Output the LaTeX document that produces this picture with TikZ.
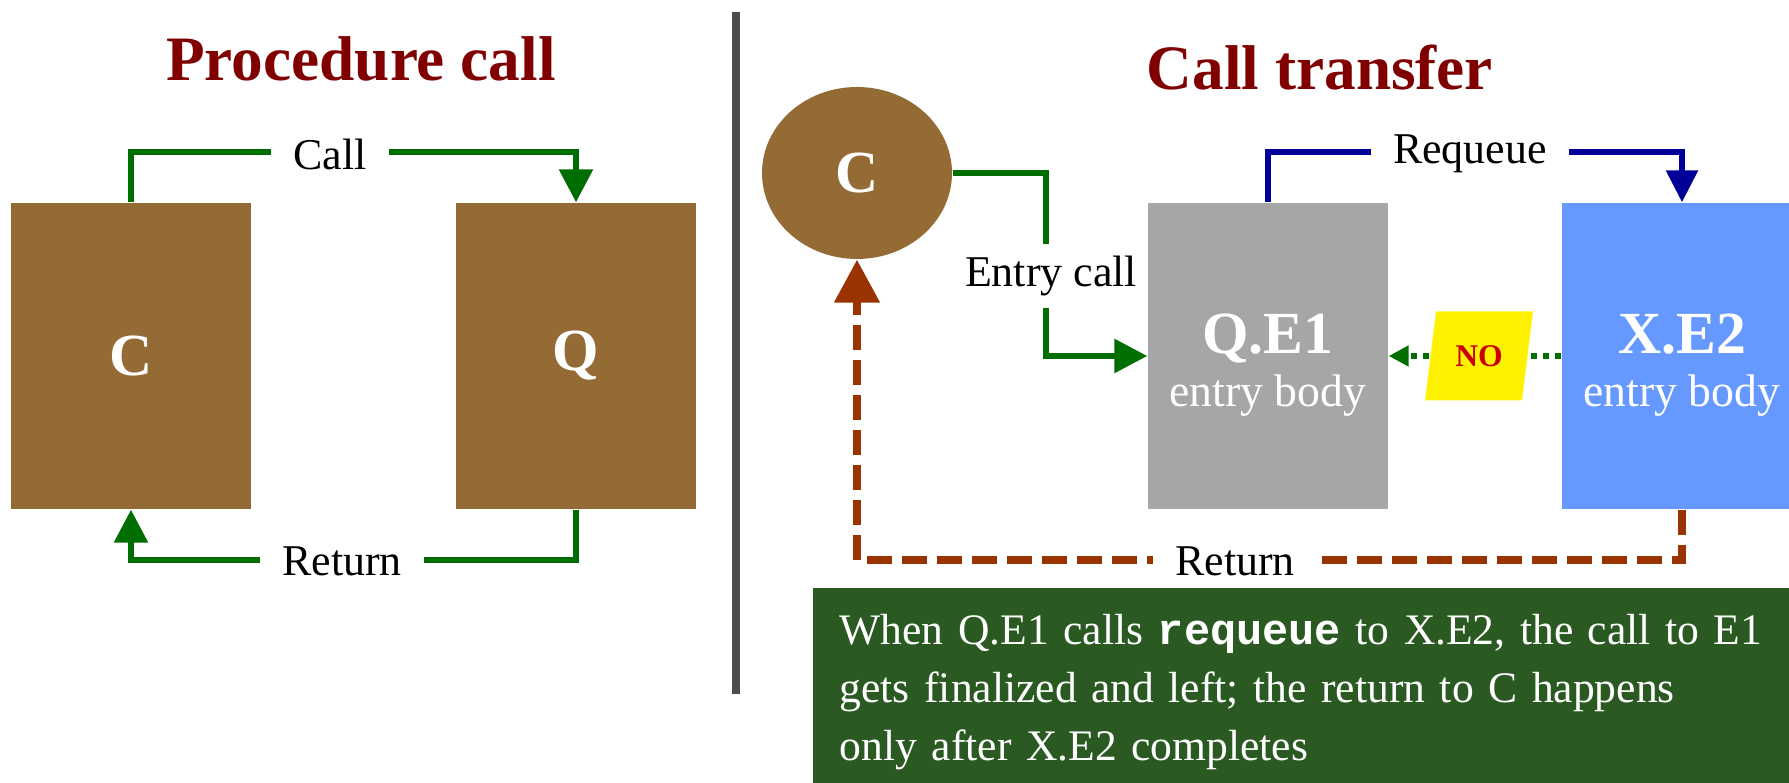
\documentclass[tikz,border=0pt]{standalone}
\usepackage{fontspec}
\setmainfont{Liberation Serif}
\setmonofont{Liberation Mono}
\definecolor{ttlred}{RGB}{128,0,0}
\definecolor{boxbrown}{RGB}{148,107,52}
\definecolor{boxgray}{RGB}{166,166,166}
\definecolor{boxblue}{RGB}{102,153,255}
\definecolor{callgreen}{RGB}{0,110,0}
\definecolor{reqblue}{RGB}{0,0,153}
\definecolor{retbrown}{RGB}{153,51,0}
\definecolor{notegreen}{RGB}{42,89,34}
\definecolor{nored}{RGB}{204,0,0}
\definecolor{sepgray}{RGB}{77,77,77}
\usetikzlibrary{arrows.meta,shapes.geometric}

\begin{document}
\begin{tikzpicture}[
  ttl/.style={text=ttlred,font=\fontsize{18}{22}\selectfont\bfseries},
  procbox/.style={fill=boxbrown,minimum width=2.4cm,minimum height=3.06cm,text=white,font=\fontsize{17}{20}\selectfont\bfseries},
  entrybox/.style={minimum width=2.4cm,minimum height=3.06cm,text=white,align=center,font=\fontsize{13}{15}\selectfont},
  lbl/.style={fill=white,inner xsep=0.22cm,inner ysep=0.12cm,font=\fontsize{12.5}{15}\selectfont},
  flow/.style={callgreen,line width=0.06cm,-{Triangle[length=0.33cm,width=0.33cm]}},
  reqflow/.style={reqblue,line width=0.06cm,-{Triangle[length=0.32cm,width=0.31cm]}},
  retflow/.style={retbrown,line width=0.08cm,dash pattern=on 0.25cm off 0.1cm,-{Triangle[length=0.43cm,width=0.44cm]}},
  noflow/.style={callgreen,line width=0.06cm,dash pattern=on 0.06cm off 0.06cm,-{Triangle[length=0.2cm,width=0.2cm]}}]
  \clip (0,0) rectangle (17.89,7.83);
  % procedure call
  \node[ttl] (ttlproc) at (3.61,7.24) {Procedure call};
  \node[procbox] (c) at (1.31,4.27) {C};
  \node[procbox] (q) at (5.76,4.27) {Q};
  \draw[flow] (c.north) -- ++(0,0.5) -| (q.north);
  \draw[flow] (q.south) -- ++(0,-0.5) -| (c.south);
  \node[lbl] (calllbl) at (3.30,6.29) {Call};
  \node[lbl] (retlbl) at (3.42,2.22) {Return};
  \draw[sepgray,line width=0.08cm] (7.36,0.89) -- (7.36,7.71);
  % call transfer
  \node[ttl] (ttltrans) at (13.20,7.15) {Call transfer};
  \node[ellipse,fill=boxbrown,minimum width=1.9cm,minimum height=1.72cm,inner sep=0,text=white,font=\fontsize{17}{20}\selectfont\bfseries] (cc) at (8.57,6.10) {C};
  \node[entrybox,fill=boxgray] (qe1) at (12.68,4.27) {\rule{0pt}{0.58cm}{\fontsize{17}{17}\selectfont\bfseries Q.E1}\\entry body};
  \node[entrybox,fill=boxblue] (xe2) at (16.82,4.27) {\rule{0pt}{0.58cm}{\fontsize{17}{17}\selectfont\bfseries X.E2}\\entry body};
  \draw[flow] (cc.east) -- ++(0.93,0) |- (qe1.west);
  \node[lbl,inner xsep=0.04cm] (entrylbl) at (10.51,5.07) {Entry call};
  \draw[reqflow] (qe1.north) -- ++(0,0.5) -| (xe2.north);
  \node[lbl] (reqlbl) at (14.70,6.29) {Requeue};
  \draw[noflow] (xe2.west) -- (qe1.east);
  \node[trapezium,trapezium stretches=true,trapezium left angle=74,trapezium right angle=106,minimum height=0.89cm,minimum width=1.08cm,inner sep=0,fill=yellow,text=nored,font=\fontsize{9}{10}\selectfont\bfseries] (no) at (14.79,4.27) {NO};
  \draw[retflow] (xe2.south) -- ++(0,-0.5) -| (cc.south);
  \node[lbl] (ret2lbl) at (12.35,2.22) {Return};
  \node[anchor=north west,fill=notegreen,text width=9.5cm,inner xsep=0.27cm,inner ysep=0.27cm,align=left,text=white,font=\fontsize{12.4}{16.4}\selectfont] (note) at (8.12,1.96) {When Q.E1 calls \texttt{\bfseries requeue} to X.E2, the call to E1\\gets finalized and left; the return to C happens\\only after X.E2 completes};
\end{tikzpicture}
\end{document}
